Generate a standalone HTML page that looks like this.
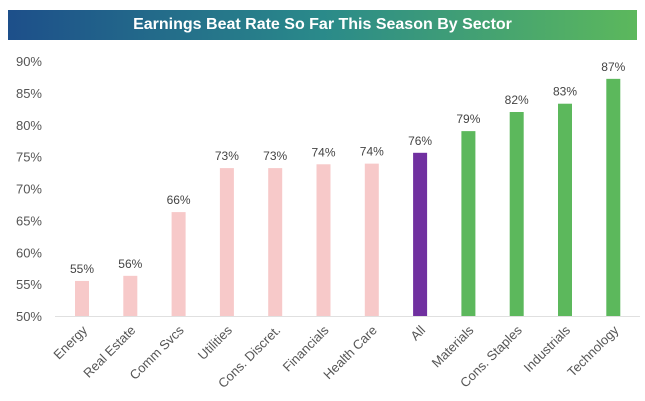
<!DOCTYPE html>
<html><head><meta charset="utf-8"><style>
body{margin:0;background:#fff;width:645px;height:401px;overflow:hidden;font-family:"Liberation Sans",sans-serif}
#title{position:absolute;left:8px;top:10px;width:629px;height:30px;background:linear-gradient(90deg,#1d4f8a,#2a8a8a 50%,#5cb85c);color:#fff;font-weight:bold;font-size:16px;line-height:30px;text-align:center}
</style></head><body>
<div id="title">Earnings Beat Rate So Far This Season By Sector</div>
<svg id="c" width="645" height="401" style="position:absolute;left:0;top:0"></svg>
<script>
const categories=["Energy","Real Estate","Comm Svcs","Utilities","Cons. Discret.","Financials","Health Care","All","Materials","Cons. Staples","Industrials","Technology"];
const values=[55.5,56.3,66.3,73.2,73.2,73.8,73.9,75.6,79.0,82.0,83.3,87.2];
const valueLabels=["55%","56%","66%","73%","73%","74%","74%","76%","79%","82%","83%","87%"];
const groups=["low","low","low","low","low","low","low","all","high","high","high","high"];
const ticks=[50,55,60,65,70,75,80,85,90];
const ns="http://www.w3.org/2000/svg",svg=document.getElementById('c');
const y=v=>316-(v-50)*255/40;
const x=i=>82+i*48.3;
const col={low:"#f7c9c9",all:"#7030a0",high:"#5cb85c"};
function mk(t,a,txt){const e=document.createElementNS(ns,t);for(const k in a)e.setAttribute(k,a[k]);if(txt)e.textContent=txt;svg.appendChild(e);return e;}
ticks.forEach(t=>{const e=mk('text',{x:42,y:y(t)+5,'text-anchor':'end','font-size':13,fill:'#555'},t+'%');

});
const ax=mk('line',{x1:55,x2:640,y1:316.5,y2:316.5,stroke:'#e0e0e0','stroke-width':1});


categories.forEach((c,i)=>{
const b=mk('rect',{x:x(i)-7,y:y(values[i]),width:14,height:316-y(values[i]),fill:col[groups[i]]});


const l=mk('text',{x:x(i),y:y(values[i])-8,'text-anchor':'middle','font-size':12,fill:'#444'},valueLabels[i]);


const xl=mk('text',{x:x(i)+6,y:331,'text-anchor':'end','font-size':13,fill:'#555',transform:`rotate(-45 ${x(i)+6} 331)`},c);


});
</script>
</body></html>
